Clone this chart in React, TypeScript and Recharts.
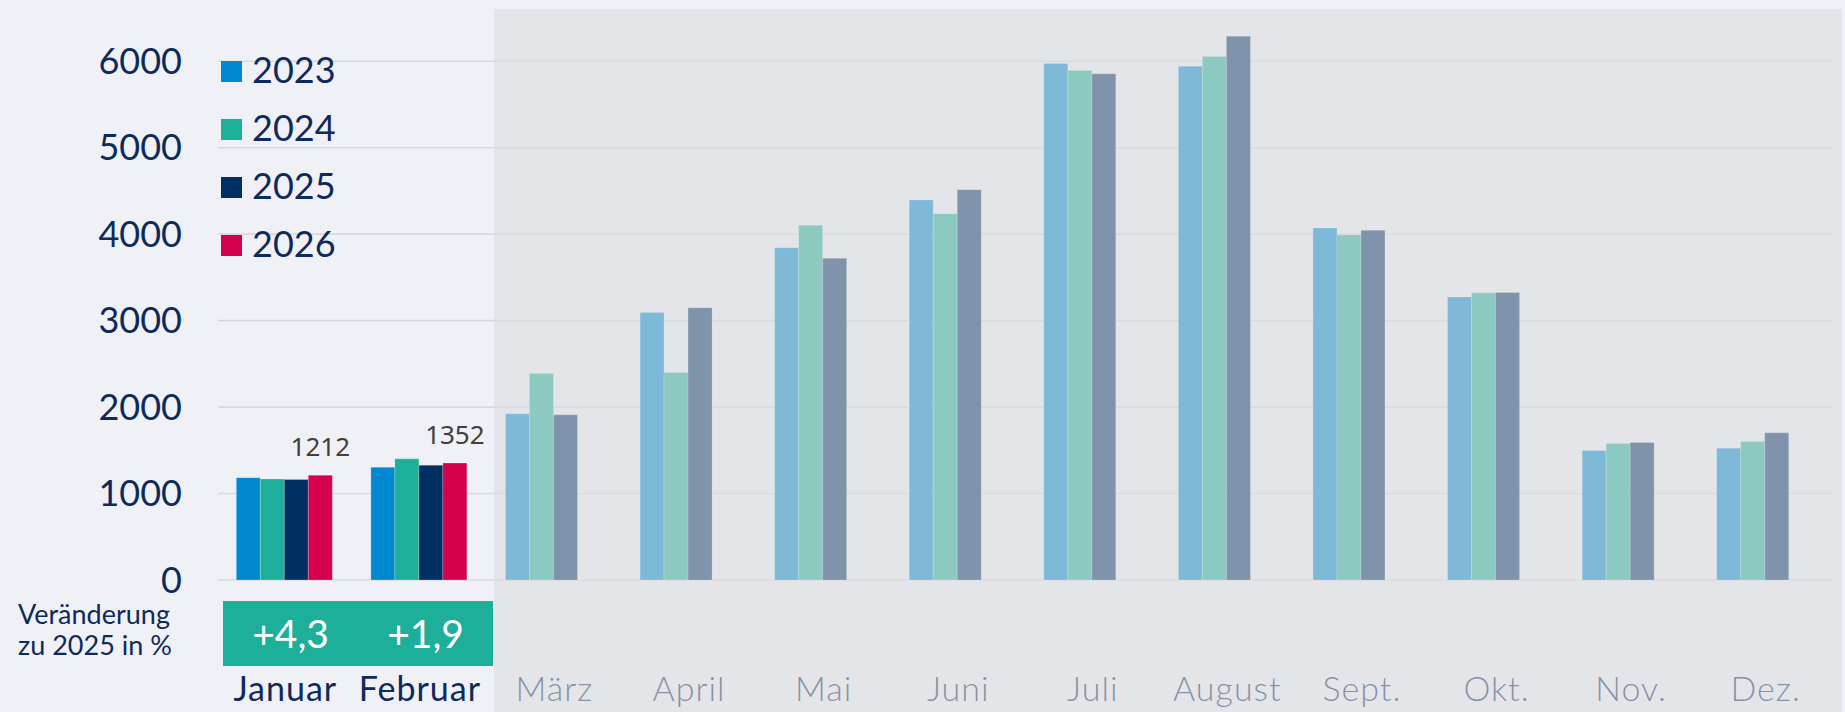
import { Bar, BarChart, CartesianGrid, LabelList, Legend, XAxis, YAxis } from 'recharts';

// values
const months = ['Januar', 'Februar', 'März', 'April', 'Mai', 'Juni', 'Juli', 'August', 'Sept.', 'Okt.', 'Nov.', 'Dez.'];
const v2023 = [1184, 1304, 1922, 3095, 3843, 4395, 5974, 5943, 4071, 3273, 1497, 1524];
const v2024 = [1169, 1401, 2389, 2400, 4102, 4237, 5893, 6055, 3990, 3323, 1578, 1601];
const v2025 = [1162, 1327, 1910, 3149, 3720, 4515, 5854, 6290, 4044, 3325, 1590, 1702];
const v2026 = [1212, 1352, null, null, null, null, null, null, null, null, null, null];
const changes = ['+4,3', '+1,9'];
const yTicks = [0, 1000, 2000, 3000, 4000, 5000, 6000];

const NAVY = '#0d2a5a';
const FONT = 'Lato, "Noto Sans", sans-serif';

const data = months.map((m, i) => ({
  month: m,
  y2023: v2023[i],
  y2024: v2024[i],
  y2025: v2025[i],
  y2026: v2026[i],
}));

const MonthTick = (props: any) => {
  const { x, y, payload } = props;
  const inPanel = payload.index >= 2;
  return (
    <text x={x} y={y + 121} textAnchor='middle' fontSize={34} letterSpacing={1} fontFamily={FONT} fontWeight={inPanel ? 300 : 400} fill={NAVY}>
      {payload.value}
    </text>
  );
};

const LegendBox = (props: any) => {
  const { payload } = props;
  return (
    <div>
      {(payload || []).map((entry: any) => (
        <div key={entry.value} style={{ display: 'flex', alignItems: 'center', height: 58 }}>
          <div style={{ width: 21, height: 21, background: entry.color, marginRight: 10 }} />
          <span style={{ fontSize: 36, fontFamily: FONT, color: NAVY, lineHeight: '36px', marginTop: -4 }}>{entry.value}</span>
        </div>
      ))}
    </div>
  );
};

export default function App() {
  return (
    <div style={{ position: 'fixed', left: 0, top: 0, width: 1845, height: 712, background: '#f0f1f6', overflow: 'hidden' }}>
      <BarChart width={1845} height={712} data={data} margin={{ top: 18, right: 12, left: 18, bottom: 0 }} barCategoryGap='13.6%' barGap={0}>
        <CartesianGrid vertical={false} horizontalValues={yTicks} stroke='#d8d9de' strokeWidth={1.6} />
        <XAxis dataKey='month' height={132} interval={0} tickLine={false} axisLine={false} tickSize={0} tickMargin={0} tick={<MonthTick />} />
        <YAxis
          width={200}
          domain={[0, 6500]}
          ticks={yTicks}
          tickLine={false}
          axisLine={false}
          tickSize={0}
          tickMargin={36}
          tick={{ fontSize: 36, fontFamily: FONT, fill: NAVY }}
        />
        <Legend
          layout='vertical'
          align='center'
          verticalAlign='middle'
          content={<LegendBox />}
          wrapperStyle={{ top: 42, left: 221, width: 140 }}
        />
        <Bar dataKey='y2023' name='2023' fill='#0288cf' stroke='#ffffff' strokeOpacity={0.3} strokeWidth={0.75} isAnimationActive={false} />
        <Bar dataKey='y2024' name='2024' fill='#1eaf9a' stroke='#ffffff' strokeOpacity={0.3} strokeWidth={0.75} isAnimationActive={false} />
        <Bar dataKey='y2025' name='2025' fill='#003063' stroke='#ffffff' strokeOpacity={0.3} strokeWidth={0.75} isAnimationActive={false} />
        <Bar dataKey='y2026' name='2026' fill='#d4004b' stroke='#ffffff' strokeOpacity={0.3} strokeWidth={0.75} isAnimationActive={false}>
          <LabelList dataKey='y2026' position='top' offset={19} style={{ fontSize: 26, fontFamily: '"Noto Sans", sans-serif', fill: '#404040' }} />
        </Bar>
      </BarChart>

      {/* grey veil over the months that have no 2026 data yet */}
      <div style={{ position: 'absolute', left: 494, top: 9, width: 1348, height: 703, background: 'rgba(218,220,222,0.58)', pointerEvents: 'none' }} />

      <div style={{ position: 'absolute', left: 18, top: 598, fontSize: 27, lineHeight: '31px', fontFamily: FONT, color: NAVY }}>
        Veränderung
        <br />
        zu 2025 in %
      </div>

      <div style={{ position: 'absolute', left: 223, top: 601, width: 270, height: 65, background: '#1eaf9a', display: 'flex' }}>
        {changes.map((c) => (
          <div key={c} style={{ width: 135, textAlign: 'center', lineHeight: '65px', fontSize: 39, fontFamily: FONT, color: '#ffffff' }}>
            {c}
          </div>
        ))}
      </div>
    </div>
  );
}
